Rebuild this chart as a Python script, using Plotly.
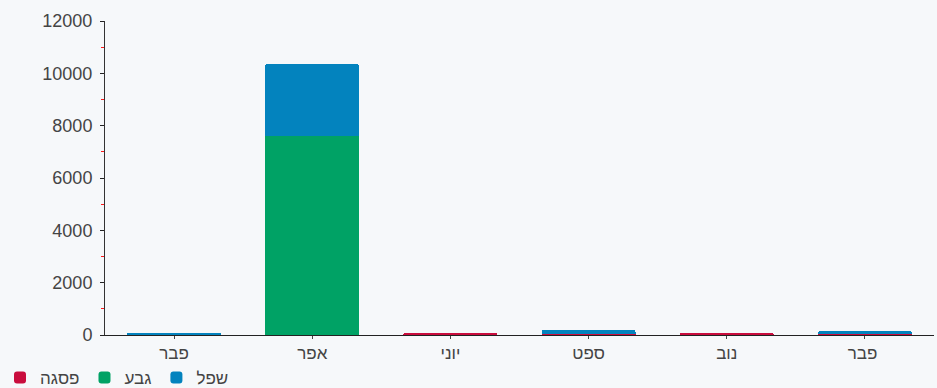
import plotly.graph_objects as go

categories = ["פבר", "אפר", "יוני", "ספט", "נוב", "פבר "]
peak_vals = [0, 0, 90, 30, 90, 30]        # פסגה
mid_vals = [0, 7600, 0, 0, 0, 0]          # גבע
low_vals = [90, 2750, 0, 170, 0, 120]     # שפל
y_ticks = [0, 2000, 4000, 6000, 8000, 10000, 12000]
y_tick_text = ["0", "2000", "4000", "6000", "8000", "10000", "12000"]

fig = go.Figure()
fig.add_trace(go.Bar(name="פסגה", x=categories, y=peak_vals, marker_color="#c90d3d", marker_line_width=0))
fig.add_trace(go.Bar(name="גבע", x=categories, y=mid_vals, marker_color="#00a265", marker_line_width=0))
fig.add_trace(go.Bar(name="שפל", x=categories, y=low_vals, marker_color="#0383be", marker_line_width=0))

font_family = "Liberation Sans, Arial, sans-serif"
fig.update_layout(
    barmode="stack",
    bargap=0.32,
    barcornerradius=2,
    width=937, height=388,
    margin=dict(l=105, r=3, t=21, b=53, autoexpand=False),
    paper_bgcolor="#f6f8fa",
    plot_bgcolor="rgba(0,0,0,0)",
    font=dict(family=font_family, size=17, color="#444"),
    showlegend=True,
    legend=dict(orientation="h", x=-0.004, xanchor="left", xref="container",
                y=0.026, yanchor="middle", yref="container",
                font=dict(size=17, color="#444"), itemwidth=30,
                bgcolor="rgba(0,0,0,0)", traceorder="normal"),
    xaxis=dict(
        automargin=False,
        showline=True, linecolor="#222", linewidth=1,
        ticks="outside", ticklen=3, tickcolor="#444",
        showgrid=False, tickfont=dict(size=17, color="#444"),
    ),
    yaxis=dict(
        automargin=False,
        range=[0, 12000], tickvals=y_ticks, ticktext=y_tick_text,
        showline=True, linecolor="#333", linewidth=1,
        ticks="outside", ticklen=4, tickcolor="#222",
        showgrid=False, zeroline=False,
        tickfont=dict(size=18, color="#444"),
        ticklabelstandoff=4,
        minor=dict(dtick=1000, ticks="outside", ticklen=3, tickcolor="#ff1a1a", showgrid=False),
    ),
    yaxis2=dict(
        automargin=False,
        range=[0, 12000], tickvals=y_ticks, overlaying="y", anchor="x", side="left",
        showticklabels=False, ticks="inside", ticklen=3, tickcolor="#222",
        showgrid=False, zeroline=False, showline=False,
    ),
)

fig.write_html("out.html", config={"displayModeBar": False},
               post_script="document.body.style.margin='0';document.body.style.overflow='hidden';")
